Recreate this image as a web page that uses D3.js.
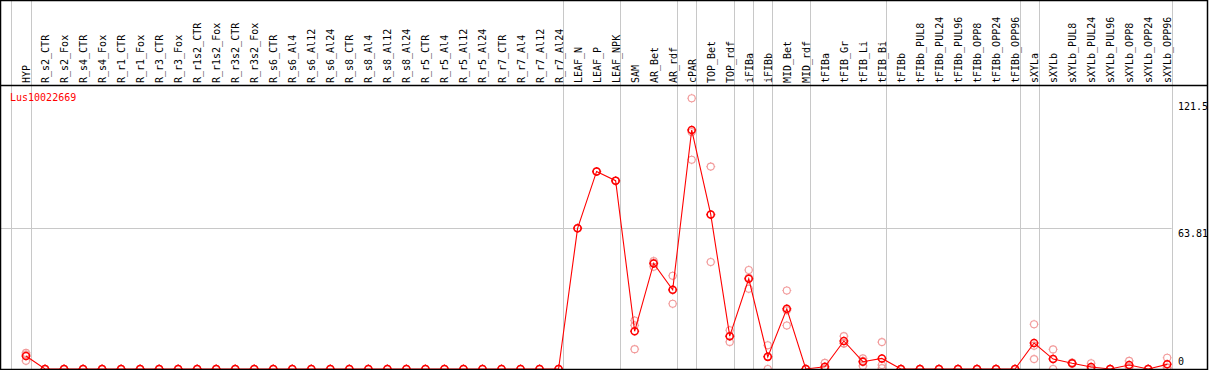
<!DOCTYPE html>
<html>
<head>
<meta charset="utf-8">
<script src="https://cdn.jsdelivr.net/npm/d3@7"></script>
<style>
  body { margin: 0; background: #fff; }
  svg text { font-family: "DejaVu Sans Mono", monospace; font-size: 10px; }
</style>
</head>
<body>
<svg id="chart" width="1209" height="370"></svg>
<script>
// sample names, left to right
const categories = [
  "HYP",
  "R_s2_CTR", "R_s2_Fox", "R_s4_CTR", "R_s4_Fox", "R_r1_CTR", "R_r1_Fox",
  "R_r3_CTR", "R_r3_Fox", "R_r1s2_CTR", "R_r1s2_Fox", "R_r3s2_CTR", "R_r3s2_Fox",
  "R_s6_CTR", "R_s6_Al4", "R_s6_Al12", "R_s6_Al24", "R_s8_CTR", "R_s8_Al4",
  "R_s8_Al12", "R_s8_Al24", "R_r5_CTR", "R_r5_Al4", "R_r5_Al12", "R_r5_Al24",
  "R_r7_CTR", "R_r7_Al4", "R_r7_Al12", "R_r7_Al24",
  "LEAF_N", "LEAF_P", "LEAF_NPK", "SAM", "AR_Bet", "AR_rdf", "cPAR",
  "TOP_Bet", "TOP_rdf", "iFIBa", "iFIBb", "MID_Bet", "MID_rdf",
  "tFIBa", "tFIB_Gr", "tFIB_Li", "tFIB_Bi",
  "tFIBb", "tFIBb_PUL8", "tFIBb_PUL24", "tFIBb_PUL96", "tFIBb_OPP8", "tFIBb_OPP24", "tFIBb_OPP96",
  "sXYLa", "sXYLb", "sXYLb_PUL8", "sXYLb_PUL24", "sXYLb_PUL96", "sXYLb_OPP8", "sXYLb_OPP24", "sXYLb_OPP96"
];

// mean expression per sample
const meanValues = [
  5.9,
  0, 0, 0, 0, 0, 0, 0, 0, 0, 0, 0, 0,
  0, 0, 0, 0, 0, 0, 0, 0, 0, 0, 0, 0, 0, 0, 0, 0,
  63.8, 89.6, 85.4, 17.1, 47.9, 35.9, 108.4,
  70.1, 14.9, 40.9, 5.5, 27.3, 0,
  1.0, 12.7, 3.3, 4.8,
  0, 0, 0, 0, 0, 0, 0,
  11.8, 4.5, 2.6, 0.9, 0, 1.8, 0, 2.1
];

// the three replicates
const rep1 = [
  7.3,
  0, 0, 0, 0, 0, 0, 0, 0, 0, 0, 0, 0,
  0, 0, 0, 0, 0, 0, 0, 0, 0, 0, 0, 0, 0, 0, 0, 0,
  63.8, 89.6, 85.4, 22.0, 49.0, 42.3, 122.8,
  91.8, 17.6, 44.9, 10.8, 35.6, 0,
  2.8, 14.9, 4.8, 12.2,
  0, 0, 0, 0, 0, 0, 0,
  20.3, 8.9, 2.9, 2.6, 0, 3.7, 0, 5.1
];
const rep2 = [
  3.7,
  0, 0, 0, 0, 0, 0, 0, 0, 0, 0, 0, 0,
  0, 0, 0, 0, 0, 0, 0, 0, 0, 0, 0, 0, 0, 0, 0, 0,
  63.8, 89.6, 85.4, 19.8, 46.4, 29.6, 94.9,
  48.5, 12.3, 36.4, 0, 19.7, 0,
  0, 11.6, 1.4, 1.8,
  0, 0, 0, 0, 0, 0, 0,
  4.5, 0, 2.4, 0, 0, 1.0, 0, 0.8
];
const rep3 = [
  6.6,
  0, 0, 0, 0, 0, 0, 0, 0, 0, 0, 0, 0,
  0, 0, 0, 0, 0, 0, 0, 0, 0, 0, 0, 0, 0, 0, 0, 0,
  63.8, 89.6, 85.4, 9.0, 48.3, 35.8, 107.5,
  70.0, 14.8, 41.4, 5.7, 26.6, 0,
  0.2, 11.6, 3.7, 0.4,
  0, 0, 0, 0, 0, 0, 0,
  10.6, 4.6, 2.5, 0.1, 0, 0.7, 0, 0.5
];

// separators are drawn right after these samples
const groupEnds = ["HYP", "R_r7_Al24", "LEAF_NPK", "AR_rdf", "cPAR", "TOP_rdf",
  "iFIBa", "iFIBb", "MID_rdf", "tFIB_Bi", "tFIBb_OPP96", "sXYLa", "sXYLb_OPP96"];

const axisTicks = [0, 63.81, 121.5];
const geneName = "Lus10022669";

const width = 1209, height = 370;
const headerBottom = 85;
const svg = d3.select("#chart");

const x = d3.scalePoint()
  .domain(categories)
  .range([26, 1167.2]);
const step = x.step();

const y = d3.scaleLinear()
  .domain([0, 121.5])
  .range([369, 101.1]);

const plotRight = x(categories[categories.length - 1]) + 4.5;

// vertical separators (full height, through the header)
const sepX = [x(categories[0]) - step + 4.5].concat(groupEnds.map(c => x(c) + 4.5));
svg.append("g")
  .selectAll("line")
  .data(sepX)
  .join("line")
  .attr("x1", d => Math.round(d) + 0.5)
  .attr("x2", d => Math.round(d) + 0.5)
  .attr("y1", 0)
  .attr("y2", height)
  .attr("stroke", "#c8c8c8")
  .attr("stroke-width", 1);

// horizontal grid at the middle tick
svg.append("line")
  .attr("x1", 0)
  .attr("x2", plotRight)
  .attr("y1", Math.round(y(63.81)) + 0.5)
  .attr("y2", Math.round(y(63.81)) + 0.5)
  .attr("stroke", "#c8c8c8");

// header labels
svg.append("g")
  .selectAll("text")
  .data(categories)
  .join("text")
  .attr("transform", d => `translate(${x(d) + 4},83) rotate(-90)`)
  .attr("fill", "#000")
  .text(d => d);

// right side value labels
svg.append("g")
  .selectAll("text")
  .data(axisTicks)
  .join("text")
  .attr("x", 1178)
  .attr("y", d => d === 0 ? y(d) - 4 : y(d) + 8.5)
  .attr("fill", "#000")
  .text(d => d);

svg.append("text")
  .attr("x", 10)
  .attr("y", 101)
  .attr("fill", "#ff0000")
  .text(geneName);

// marker: small circle with four short ticks
const markerPath = (r) => {
  const t = r + 1;
  return `M${-r},0a${r},${r} 0 1,0 ${2 * r},0a${r},${r} 0 1,0 ${-2 * r},0` +
    `M0,${-r}V${-t}M0,${r}V${t}M${-r},0H${-t}M${r},0H${t}`;
};

// replicates
const reps = [rep1, rep2, rep3];
reps.forEach(rep => {
  svg.append("g")
    .selectAll("path")
    .data(rep.map((v, i) => ({ c: categories[i], v })))
    .join("path")
    .attr("transform", d => `translate(${x(d.c)},${y(d.v)})`)
    .attr("d", markerPath(3.5))
    .attr("fill", "none")
    .attr("stroke", "#f29b9b")
    .attr("stroke-width", 1.1);
});

// mean line
const meanData = meanValues.map((v, i) => ({ c: categories[i], v }));
svg.append("path")
  .datum(meanData)
  .attr("d", d3.line().x(d => x(d.c)).y(d => y(d.v)))
  .attr("fill", "none")
  .attr("stroke", "#ff0000")
  .attr("stroke-width", 1.1);

svg.append("g")
  .selectAll("path")
  .data(meanData)
  .join("path")
  .attr("transform", d => `translate(${x(d.c)},${y(d.v)})`)
  .attr("d", markerPath(3.5))
  .attr("fill", "none")
  .attr("stroke", "#ff0000")
  .attr("stroke-width", 1.5);

// frame and header rule
svg.append("line")
  .attr("x1", 0).attr("x2", 1208)
  .attr("y1", headerBottom + 0.5).attr("y2", headerBottom + 0.5)
  .attr("stroke", "#000").attr("stroke-width", 1.5);

svg.append("rect")
  .attr("x", 0.5).attr("y", 0.5)
  .attr("width", 1207).attr("height", 369)
  .attr("fill", "none")
  .attr("stroke", "#000")
  .attr("stroke-width", 1.5);
</script>
</body>
</html>
